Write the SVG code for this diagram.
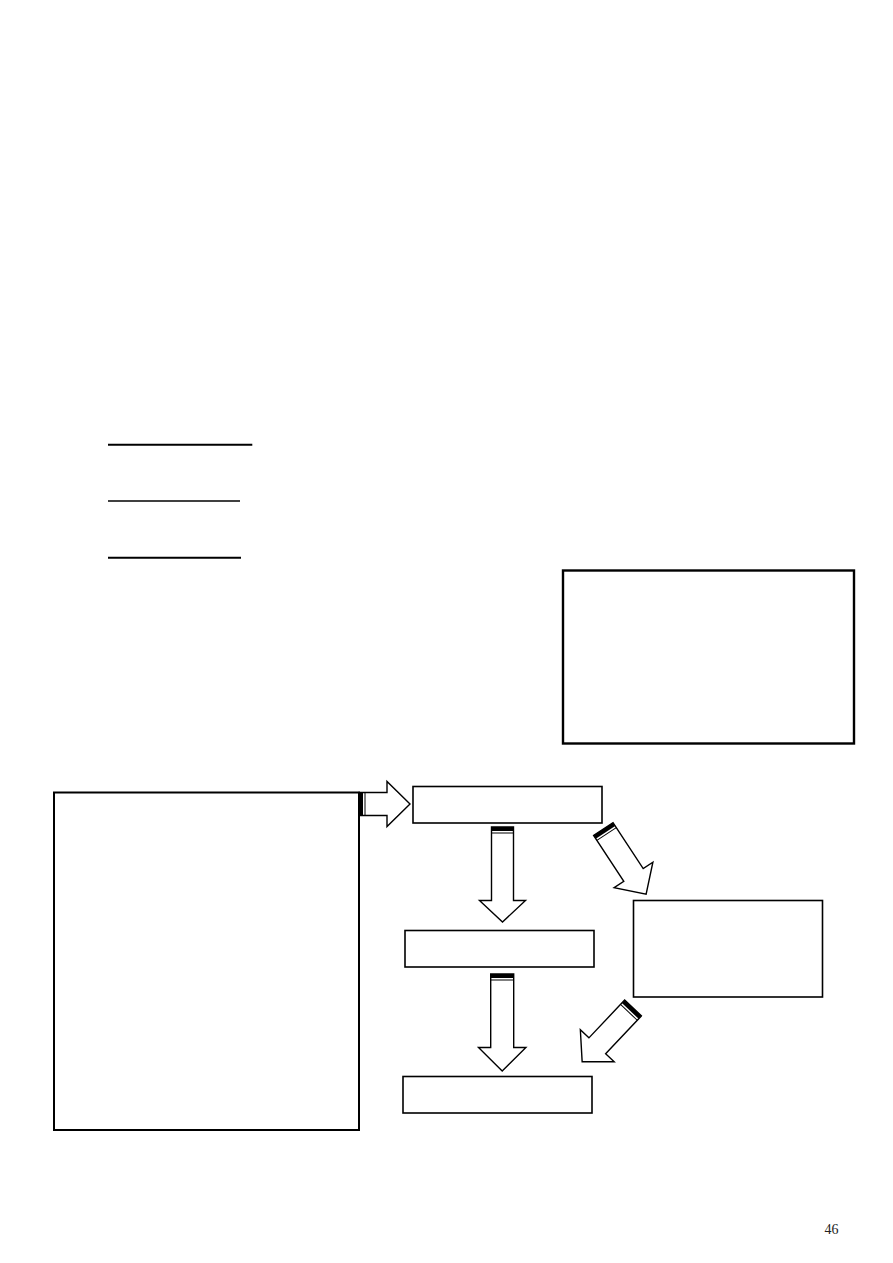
<svg xmlns="http://www.w3.org/2000/svg" width="893" height="1263" viewBox="0 0 893 1263">
<style>
.box{fill:#fff;stroke:#000}
.arrow{fill:#fff;stroke:#000;stroke-width:1.4;stroke-linejoin:miter}
.band{fill:#000}
.thin{stroke:#000;stroke-width:1}
.ul{stroke:#000}
.pg{font-family:"Liberation Serif",serif;font-size:14px;fill:#222}
</style>
<rect width="893" height="1263" fill="#fff"/>
<g id="underlines">
<line class="ul" x1="108" y1="444.7" x2="252.3" y2="444.7" stroke-width="2"/>
<line class="ul" x1="108" y1="501" x2="240" y2="501" stroke-width="1.4"/>
<line class="ul" x1="108" y1="557.7" x2="241" y2="557.7" stroke-width="2"/>
</g>
<g id="node-topright"><rect class="box" x="563" y="570.5" width="291" height="173" stroke-width="2.4"/></g>
<g id="node-left"><rect class="box" x="54" y="792.5" width="305" height="337.5" stroke-width="2"/></g>
<g id="node-a"><rect class="box" x="413" y="786.5" width="189" height="36.5" stroke-width="1.6"/></g>
<g id="node-b"><rect class="box" x="405" y="930.5" width="189" height="36.5" stroke-width="1.6"/></g>
<g id="node-c"><rect class="box" x="403" y="1076.5" width="189" height="36.5" stroke-width="1.6"/></g>
<g id="node-d"><rect class="box" x="633.5" y="900.5" width="189" height="96.5" stroke-width="1.6"/></g>
<g id="connectors">
<g transform="translate(359,804)">
<path class="arrow" d="M0,-11.5 L28,-11.5 L28,-22.5 L51,0 L28,22.5 L28,11.5 L0,11.5 Z"/>
<rect class="band" x="0" y="-11.5" width="4" height="23"/>
<line class="thin" x1="6" y1="-11.5" x2="6" y2="11.5"/>
</g>
<g transform="translate(502.5,827) rotate(90)">
<path class="arrow" d="M0,-11 L73.5,-11 L73.5,-23 L95,0 L73.5,23 L73.5,11 L0,11 Z"/>
<rect class="band" x="0" y="-11" width="4" height="22"/>
<line class="thin" x1="6" y1="-11" x2="6" y2="11"/>
</g>
<g transform="translate(502.2,974) rotate(90)">
<path class="arrow" d="M0,-11.5 L73.5,-11.5 L73.5,-23.7 L97,0 L73.5,23.7 L73.5,11.5 L0,11.5 Z"/>
<rect class="band" x="0" y="-11.5" width="4" height="23"/>
<line class="thin" x1="6" y1="-11.5" x2="6" y2="11.5"/>
</g>
<g transform="translate(603.3,829) rotate(56.7)">
<path class="arrow" d="M0,-11.6 L55,-11.6 L55,-23.2 L78,0 L55,23.2 L55,11.6 L0,11.6 Z"/>
<rect class="band" x="0" y="-11.6" width="4" height="23.2"/>
<line class="thin" x1="6" y1="-11.6" x2="6" y2="11.6"/>
</g>
<g transform="translate(633,1008) rotate(133.4)">
<path class="arrow" d="M0,-11.5 L52,-11.5 L52,-23.3 L74,0 L52,23.3 L52,11.5 L0,11.5 Z"/>
<rect class="band" x="0" y="-11.5" width="4" height="23"/>
<line class="thin" x1="6" y1="-11.5" x2="6" y2="11.5"/>
</g>
</g>
<text class="pg" x="831.5" y="1234" text-anchor="middle">46</text>
</svg>
